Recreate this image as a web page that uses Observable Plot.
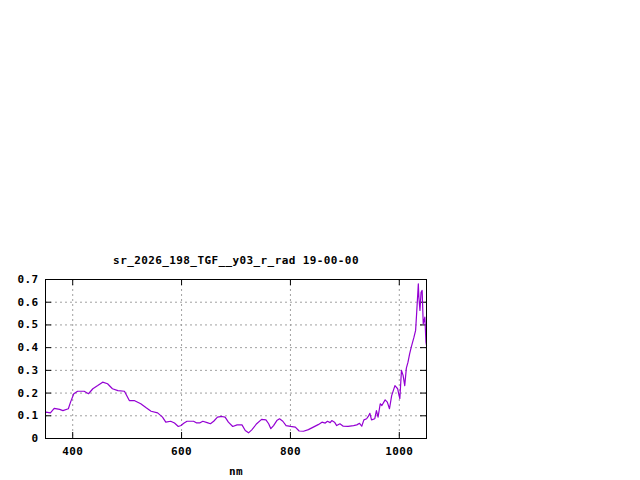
<!DOCTYPE html>
<html>
<head>
<meta charset="utf-8">
<script src="https://cdn.jsdelivr.net/npm/d3@7"></script>
<script src="https://cdn.jsdelivr.net/npm/@observablehq/plot@0.6"></script>
<style>
  html, body { margin: 0; padding: 0; background: #fff; }
  #chart svg { display: block; }
</style>
</head>
<body>
<div id="chart"></div>
<script>
const title = "sr_2026_198_TGF__y03_r_rad 19-00-00";
const xLabel = "nm";
const xTicks = [400, 600, 800, 1000];
const yTicks = [0, 0.1, 0.2, 0.3, 0.4, 0.5, 0.6, 0.7];

const wavelength = [
  350, 351, 359, 366, 376, 382, 392, 396, 402, 409, 421, 429, 437, 446, 455, 464, 473, 483, 495, 504,
  513, 525, 535, 544, 556, 565, 571, 580, 587, 594, 599, 604, 610, 622, 627, 634, 639, 647, 653, 659,
  666, 674, 680, 686, 694, 702, 711, 717, 723, 729, 738, 747, 755, 760, 764, 769, 775, 780, 786, 792,
  800, 809, 816, 824, 833, 842, 851, 858, 864, 868, 873, 876, 881, 885, 891, 897, 906, 916, 922, 927,
  931, 935, 940, 943, 946, 949, 955, 958, 961, 965, 968, 974, 978, 982, 986, 992, 997, 1001, 1004, 1007,
  1010, 1013, 1016, 1019, 1022, 1027, 1030, 1032, 1035, 1036, 1038, 1040, 1042, 1044, 1047, 1049, 1050
];
const radiance = [
  0.112, 0.116, 0.113, 0.133, 0.128, 0.123, 0.131, 0.160, 0.197, 0.208, 0.208, 0.197, 0.219, 0.233, 0.248, 0.241, 0.219, 0.211, 0.208, 0.167,
  0.167, 0.153, 0.135, 0.120, 0.113, 0.094, 0.072, 0.076, 0.068, 0.053, 0.057, 0.067, 0.076, 0.076, 0.069, 0.069, 0.076, 0.070, 0.065, 0.076,
  0.094, 0.097, 0.094, 0.072, 0.053, 0.060, 0.060, 0.035, 0.025, 0.038, 0.065, 0.084, 0.082, 0.065, 0.043, 0.057, 0.079, 0.087, 0.076, 0.057,
  0.053, 0.050, 0.033, 0.032, 0.039, 0.050, 0.061, 0.072, 0.068, 0.076, 0.070, 0.079, 0.072, 0.057, 0.065, 0.054, 0.053, 0.057, 0.060, 0.067,
  0.054, 0.082, 0.087, 0.097, 0.111, 0.082, 0.087, 0.123, 0.094, 0.153, 0.145, 0.170, 0.160, 0.131, 0.189, 0.233, 0.219, 0.175, 0.300, 0.278,
  0.233, 0.310, 0.336, 0.373, 0.402, 0.446, 0.476, 0.556, 0.681, 0.622, 0.564, 0.644, 0.652, 0.505, 0.534, 0.424, 0.410
];

const data = wavelength.map((w, i) => ({w, v: radiance[i]}));

const fontFamily = "'DejaVu Sans Mono', monospace";
const frameH = 438 - 279;
const frameW = 426 - 45;
const tickLen = 6;

const chart = Plot.plot({
  width: 640,
  height: 480,
  marginLeft: 45,
  marginRight: 214,
  marginTop: 279,
  marginBottom: 42,
  style: {fontFamily, fontSize: "11px", fontWeight: "bold", background: "#fff", color: "#000", letterSpacing: "0.4px"},
  x: {domain: [350, 1050]},
  y: {domain: [0, 0.7]},
  marks: [
    Plot.gridX(xTicks, {stroke: "#a0a0a0", strokeOpacity: 1, strokeDasharray: "2,3", strokeWidth: 1}),
    Plot.gridY(yTicks.filter(d => d > 0 && d < 0.7), {stroke: "#a0a0a0", strokeOpacity: 1, strokeDasharray: "2,3", strokeWidth: 1}),
    Plot.ruleX(xTicks, {stroke: "#000", insetTop: frameH - tickLen}),
    Plot.ruleX(xTicks, {stroke: "#000", insetBottom: frameH - tickLen}),
    Plot.ruleY(yTicks, {stroke: "#000", insetRight: frameW - tickLen}),
    Plot.ruleY(yTicks, {stroke: "#000", insetLeft: frameW - tickLen}),
    Plot.line(data, {x: "w", y: "v", stroke: "#9400d3", strokeWidth: 1.2}),
    Plot.frame({stroke: "#000", strokeWidth: 1}),
    Plot.axisX(xTicks, {tickSize: 0, tickPadding: 9, label: null, tickFormat: d => String(d), fontWeight: "bold"}),
    Plot.axisY(yTicks, {tickSize: 0, tickPadding: 7, label: null, tickFormat: d => d === 0 ? "0" : d.toFixed(1), fontWeight: "bold"}),
    Plot.text([xLabel], {frameAnchor: "bottom", dy: 36, text: d => d, fontWeight: "bold"}),
    Plot.text([title], {frameAnchor: "top", dy: -23, text: d => d, fontWeight: "bold"})
  ]
});

document.getElementById("chart").appendChild(chart);
</script>
</body>
</html>
